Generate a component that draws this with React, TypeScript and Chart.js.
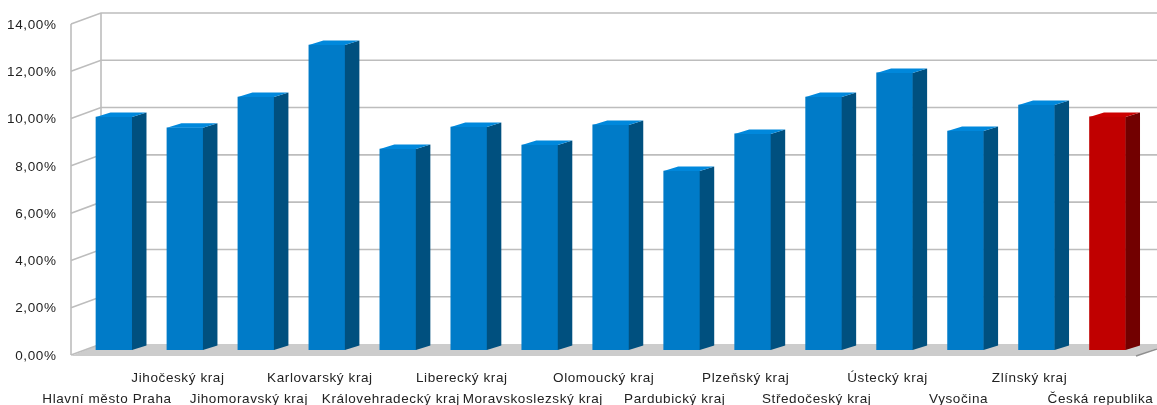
import React, { useEffect, useRef } from "react";
import { Chart, registerables } from "chart.js";

Chart.register(...registerables);

const categories = [
  "Hlavní město Praha",
  "Jihočeský kraj",
  "Jihomoravský kraj",
  "Karlovarský kraj",
  "Královehradecký kraj",
  "Liberecký kraj",
  "Moravskoslezský kraj",
  "Olomoucký kraj",
  "Pardubický kraj",
  "Plzeňský kraj",
  "Středočeský kraj",
  "Ústecký kraj",
  "Vysočina",
  "Zlínský kraj",
  "Česká republika",
];
const unemployment = [9.85, 9.4, 10.7, 12.9, 8.5, 9.43, 8.67, 9.52, 7.57, 9.14, 10.7, 11.72, 9.26, 10.36, 9.86];
const yTicks = [0, 2, 4, 6, 8, 10, 12, 14];

const FONT = "'Liberation Sans', Arial, sans-serif";
const isNational = (i: number) => i === categories.length - 1;

const scene3d = {
  id: "scene3d",
  beforeDraw(chart: any) {
    chart.ctx.letterSpacing = "0.6px";
  },
  beforeDatasetsDraw(chart: any) {
    const { ctx, scales } = chart;
    const y = scales.y;
    const left = y.right - 7.5;
    const backLeft = left + 30;
    const W = chart.width;
    ctx.save();
    // floor
    const base = y.getPixelForValue(0);
    ctx.fillStyle = "#cccccc";
    ctx.beginPath();
    ctx.moveTo(left, base + 6);
    ctx.lineTo(1136, base + 6);
    ctx.lineTo(W, base - 2);
    ctx.lineTo(W, base - 6);
    ctx.lineTo(backLeft, base - 6);
    ctx.closePath();
    ctx.fill();
    ctx.strokeStyle = "#8f8f8f";
    ctx.lineWidth = 1.5;
    ctx.beginPath();
    ctx.moveTo(1136, base + 6);
    ctx.lineTo(W, base - 1);
    ctx.stroke();
    // grid
    ctx.strokeStyle = "#bdbdbd";
    ctx.lineWidth = 1.6;
    for (const t of yTicks) {
      const p = y.getPixelForValue(t);
      ctx.beginPath();
      ctx.moveTo(left, p + 5);
      ctx.lineTo(backLeft, p - 6);
      if (t > 0) ctx.lineTo(W, p - 6);
      ctx.stroke();
    }
    const top = y.getPixelForValue(14);
    ctx.beginPath();
    ctx.moveTo(left, top + 5);
    ctx.lineTo(left, base + 5);
    ctx.moveTo(backLeft, top - 6);
    ctx.lineTo(backLeft, base - 6);
    ctx.stroke();
    ctx.restore();
  },
  afterDatasetsDraw(chart: any) {
    const { ctx } = chart;
    const dx = 14.5;
    const dy = -4.5;
    ctx.save();
    chart.getDatasetMeta(0).data.forEach((bar: any, i: number) => {
      const l = bar.x - bar.width / 2;
      const r = bar.x + bar.width / 2;
      ctx.fillStyle = isNational(i) ? "#720000" : "#00507f";
      ctx.beginPath();
      ctx.moveTo(r, bar.y);
      ctx.lineTo(r + dx, bar.y + dy);
      ctx.lineTo(r + dx, bar.base + dy);
      ctx.lineTo(r, bar.base);
      ctx.closePath();
      ctx.fill();
      ctx.fillStyle = isNational(i) ? "#cc0000" : "#0088dc";
      ctx.beginPath();
      ctx.moveTo(l, bar.y);
      ctx.lineTo(l + dx, bar.y + dy);
      ctx.lineTo(r + dx, bar.y + dy);
      ctx.lineTo(r, bar.y);
      ctx.closePath();
      ctx.fill();
    });
    ctx.restore();
  },
};

export default function App() {
  const ref = useRef<HTMLCanvasElement>(null);
  useEffect(() => {
    const chart = new Chart(ref.current as HTMLCanvasElement, {
      type: "bar",
      data: {
        labels: categories,
        datasets: [
          {
            data: unemployment,
            backgroundColor: categories.map((_, i) => (isNational(i) ? "#c00000" : "#007bc8")),
            barThickness: 36,
          },
        ],
      },
      options: {
        animation: false,
        responsive: false,
        devicePixelRatio: 1,
        layout: { padding: { top: 19, right: 14, left: 0, bottom: 0 } },
        plugins: { legend: { display: false }, tooltip: { enabled: false } },
        scales: {
          x: {
            grid: { display: false, drawTicks: false },
            border: { display: false },
            afterFit: (s: any) => {
              s.height = 55;
              s.paddingLeft = 0;
              s.paddingRight = 0;
            },
            ticks: {
              autoSkip: false,
              maxRotation: 0,
              minRotation: 0,
              padding: 17.5,
              labelOffset: -7,
              color: "#222222",
              font: { family: FONT, size: 13.5, lineHeight: 1.56 },
              callback: (_: any, i: number) => (i % 2 === 0 ? ["", categories[i]] : [categories[i], ""]),
            },
          },
          y: {
            min: 0,
            max: 14,
            grid: { display: false, drawTicks: false },
            border: { display: false },
            afterFit: (s: any) => {
              s.width = 78.5;
              s.paddingTop = 0;
              s.paddingBottom = 0;
            },
            afterBuildTicks: (s: any) => {
              s.ticks = yTicks.map((value) => ({ value }));
            },
            ticks: {
              padding: 22,
              labelOffset: 6,
              color: "#222222",
              font: { family: FONT, size: 13.5 },
              callback: (v: any) => Number(v).toFixed(2).replace(".", ",") + "%",
            },
          },
        },
      },
      plugins: [scene3d],
    } as any);
    return () => chart.destroy();
  }, []);
  return (
    <canvas
      ref={ref}
      width={1157}
      height={405}
      style={{ position: "absolute", left: 0, top: 0, display: "block" }}
    />
  );
}
